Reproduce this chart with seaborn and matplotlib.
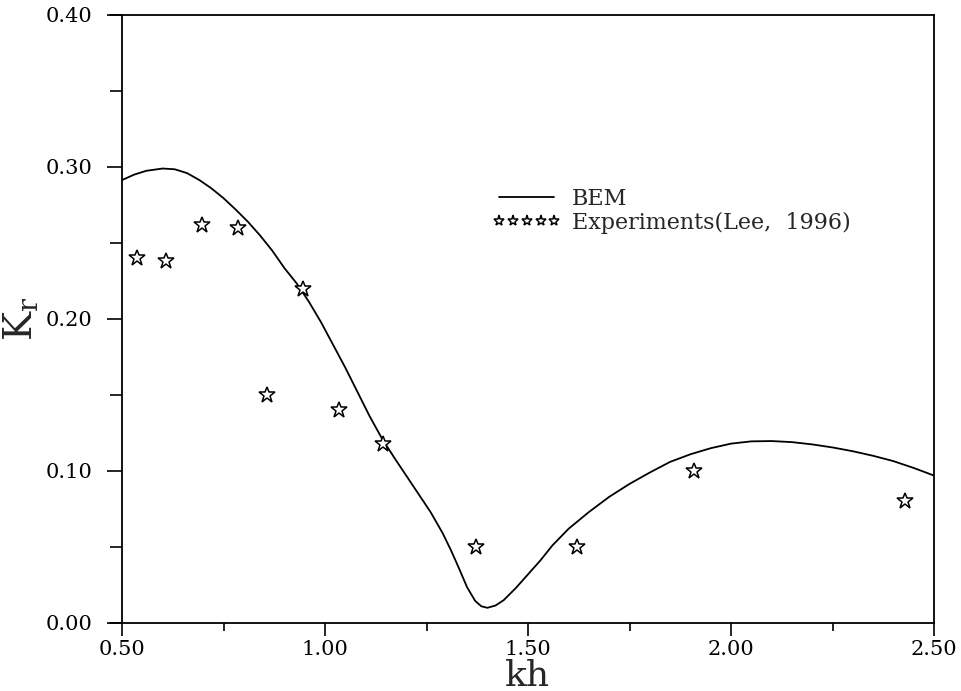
import matplotlib
matplotlib.use("Agg")
import matplotlib.pyplot as plt
import seaborn as sns
import pandas as pd

# BEM curve
bem_kh = [0.50, 0.53, 0.56, 0.60, 0.63, 0.66, 0.69, 0.72, 0.75, 0.78, 0.81,
          0.84, 0.87, 0.90, 0.93, 0.96, 0.99, 1.02, 1.05, 1.08, 1.11, 1.14,
          1.17, 1.20, 1.23, 1.26, 1.29, 1.31, 1.33, 1.35, 1.37, 1.385, 1.40,
          1.42, 1.44, 1.47, 1.50, 1.53, 1.56, 1.60, 1.65, 1.70, 1.75, 1.80,
          1.85, 1.90, 1.95, 2.00, 2.05, 2.10, 2.15, 2.20, 2.25, 2.30, 2.35,
          2.40, 2.45, 2.50]
bem_kr = [0.2914, 0.2950, 0.2975, 0.2990, 0.2985, 0.2960, 0.2915, 0.2860, 0.2795, 0.2720, 0.2640,
          0.2550, 0.2450, 0.2335, 0.2235, 0.2115, 0.1980, 0.1830, 0.1680, 0.1520, 0.1360, 0.1215,
          0.1090, 0.0970, 0.0850, 0.0730, 0.0590, 0.0480, 0.0360, 0.0235, 0.0145, 0.0110, 0.0100,
          0.0115, 0.0150, 0.0230, 0.0320, 0.0410, 0.0510, 0.0620, 0.0730, 0.0830, 0.0915, 0.0990,
          0.1060, 0.1110, 0.1150, 0.1180, 0.1195, 0.1197, 0.1190, 0.1175, 0.1155, 0.1130, 0.1100,
          0.1065, 0.1020, 0.0970]

# Experiments (Lee, 1996)
exp_kh = [0.537, 0.608, 0.697, 0.786, 0.857, 0.946, 1.034, 1.143, 1.372, 1.621, 1.909, 2.429]
exp_kr = [0.240, 0.238, 0.262, 0.260, 0.150, 0.220, 0.140, 0.118, 0.050, 0.050, 0.100, 0.080]

x_ticks = [0.50, 1.00, 1.50, 2.00, 2.50]
x_minor = [0.75, 1.25, 1.75, 2.25]
y_ticks = [0.00, 0.10, 0.20, 0.30, 0.40]
y_minor = [0.05, 0.15, 0.25, 0.35]

sns.set_theme(style="white")
plt.rcParams['font.family'] = ['DejaVu Serif']
plt.rcParams['mathtext.fontset'] = 'dejavuserif'

fig = plt.figure(figsize=(9.62, 6.91), dpi=100)
ax = fig.add_axes([122/962, 1-623/691, (934-122)/962, (623-15)/691])

bem = pd.DataFrame({"kh": bem_kh, "Kr": bem_kr})
exp = pd.DataFrame({"kh": exp_kh, "Kr": exp_kr})

sns.lineplot(data=bem, x="kh", y="Kr", ax=ax, color="black", linewidth=1.3,
             label="BEM", sort=False, estimator=None)
sns.lineplot(data=exp, x="kh", y="Kr", ax=ax, color="black", linestyle="",
             marker="*", markersize=12, markerfacecolor="white",
             markeredgecolor="black", markeredgewidth=1.1,
             label="Experiments(Lee,  1996)", sort=False, estimator=None)

ax.set_xlim(0.5, 2.5)
ax.set_ylim(0.0, 0.4)
ax.set_xticks(x_ticks)
ax.set_xticklabels([f"{v:.2f}" for v in x_ticks])
ax.set_xticks(x_minor, minor=True)
ax.set_yticks(y_ticks)
ax.set_yticklabels([f"{v:.2f}" for v in y_ticks])
ax.set_yticks(y_minor, minor=True)

ax.tick_params(axis="both", which="both", direction="out", colors="black",
               labelsize=15, width=1.2)
ax.tick_params(axis="x", which="major", length=9, pad=3, bottom=True)
ax.tick_params(axis="x", which="minor", length=6, bottom=True)
ax.tick_params(axis="y", which="major", length=11, pad=10, left=True)
ax.tick_params(axis="y", which="minor", length=9, left=True)

for s in ax.spines.values():
    s.set_color("black")
    s.set_linewidth(1.3)
    s.set_visible(True)

# slight leftward overshoot of top/bottom frame lines
for yy in (0.0, 1.0):
    ax.plot([-0.015, 0.0], [yy, yy], transform=ax.transAxes, color="black",
            linewidth=1.3, clip_on=False)

ax.set_xlabel("kh", fontsize=26, labelpad=0)
ax.set_ylabel(r"$\mathregular{K_r}$", fontsize=28, labelpad=4)

leg = ax.legend(loc="upper left", bbox_to_anchor=(0.456, 0.716), frameon=False,
                fontsize=16, numpoints=5, handlelength=3.1, handletextpad=0.5,
                labelspacing=0.1, borderpad=0, borderaxespad=0)
for h in leg.legend_handles:
    h.set_markersize(8)

fig.savefig("out.png", dpi=100, facecolor="white")
